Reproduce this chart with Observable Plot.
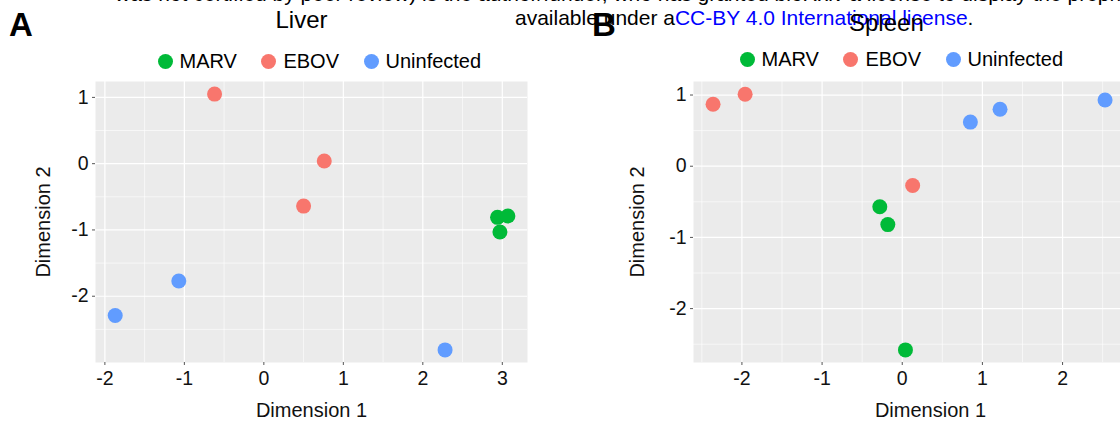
<!DOCTYPE html>
<html><head><meta charset="utf-8">
<script src="https://cdn.jsdelivr.net/npm/d3@7"></script>
<script src="https://cdn.jsdelivr.net/npm/@observablehq/plot@0.6"></script>
<style>
html,body{margin:0;padding:0;background:#fff;overflow:hidden;width:1120px;height:421px;}
body{position:relative;font-family:"Liberation Sans",Arial,sans-serif;color:#000;}
.abs{position:absolute;white-space:nowrap;}
.hdr{font-size:21px;line-height:24px;}
.link{color:#0000ff;}
.title{font-size:24px;line-height:24px;}
.tag{font-size:33px;font-weight:bold;line-height:33px;}
.legend{display:flex;align-items:center;font-size:20px;line-height:20px;}
.legend .dot{width:15px;height:15px;border-radius:50%;margin-right:7px;flex:none;}
.legend .lab{margin-right:24.5px;}
svg.plotpanel{max-width:none !important;}
svg.plotpanel g[aria-label$="tick label"]{font-size:19.5px;}
</style></head><body>
<script>
// ---- data ----
const groups = ["MARV", "EBOV", "Uninfected"];
const groupColors = ["#00BA38", "#F8766D", "#619CFF"];

const liverGroup = ["EBOV", "EBOV", "EBOV", "MARV", "MARV", "MARV", "Uninfected", "Uninfected", "Uninfected"];
const liverDim1  = [-0.62, 0.76, 0.50, 2.94, 3.07, 2.97, -1.07, -1.87, 2.28];
const liverDim2  = [1.05, 0.04, -0.64, -0.81, -0.79, -1.03, -1.77, -2.29, -2.81];

const spleenGroup = ["EBOV", "EBOV", "EBOV", "MARV", "MARV", "MARV", "Uninfected", "Uninfected", "Uninfected"];
const spleenDim1  = [-2.36, -1.96, 0.13, -0.28, -0.18, 0.04, 0.85, 1.22, 2.53];
const spleenDim2  = [0.87, 1.01, -0.27, -0.57, -0.82, -2.58, 0.62, 0.80, 0.93];

const liverXTicks  = [-2, -1, 0, 1, 2, 3];
const liverYTicks  = [-2, -1, 0, 1];
const spleenXTicks = [-2, -1, 0, 1, 2];
const spleenYTicks = [-2, -1, 0, 1];

const headerLine1 = "was not certified by peer review) is the author/funder, who has granted bioRxiv a license to display the preprint in perpetuity. It is made";
const headerLine2a = "available under a";
const headerLink = "CC-BY 4.0 International license";
const headerLine2b = ".";

// ---- helpers ----
const FONT = '"Liberation Sans", Arial, sans-serif';
const fmt = d => String(d);
function minorTicks(major, domain) {
  const step = major[1] - major[0];
  const out = [];
  for (let v = major[0] - step / 2; v <= major[major.length - 1] + step; v += step) {
    if (v >= domain[0] && v <= domain[1]) out.push(v);
  }
  return out;
}
function addDiv(cls, left, top, html) {
  const d = document.createElement("div");
  d.className = "abs " + cls;
  d.style.left = left + "px";
  d.style.top = top + "px";
  d.innerHTML = html;
  document.body.appendChild(d);
  return d;
}
function makePanel({group, dim1, dim2, xTicks, yTicks, xDomain, yDomain, left, width, marginLeft, marginRight, yLabelDx}) {
  const rows = group.map((g, i) => ({group: g, d1: dim1[i], d2: dim2[i]}));
  const xMajor = xTicks.filter(t => t >= xDomain[0] && t <= xDomain[1]);
  const yMajor = yTicks.filter(t => t >= yDomain[0] && t <= yDomain[1]);
  const chart = Plot.plot({
    width, height: 421,
    marginLeft, marginRight, marginTop: 81, marginBottom: 59,
    x: {domain: xDomain, label: null},
    y: {domain: yDomain, label: null},
    color: {domain: groups, range: groupColors},
    style: {fontFamily: FONT, background: "transparent", color: "#111", overflow: "visible"},
    marks: [
      Plot.frame({fill: "#EBEBEB", stroke: null}),
      Plot.gridX(minorTicks(xMajor, xDomain), {stroke: "#fff", strokeOpacity: 1, strokeWidth: 0.6}),
      Plot.gridY(minorTicks(yMajor, yDomain), {stroke: "#fff", strokeOpacity: 1, strokeWidth: 0.6}),
      Plot.gridX(xMajor, {stroke: "#fff", strokeOpacity: 1, strokeWidth: 1.2}),
      Plot.gridY(yMajor, {stroke: "#fff", strokeOpacity: 1, strokeWidth: 1.2}),
      Plot.axisX(xMajor, {tickSize: 3, tickPadding: 6, fontSize: 19.5, tickFormat: fmt, stroke: "#555", fill: "#111", label: null}),
      Plot.axisY(yMajor, {tickSize: 3, tickPadding: 4, fontSize: 19.5, tickFormat: fmt, stroke: "#555", fill: "#111", label: null}),
      Plot.dot(rows, {x: "d1", y: "d2", fill: "group", r: 7.5, stroke: null}),
      Plot.text(["Dimension 1"], {frameAnchor: "bottom", lineAnchor: "middle", textAnchor: "middle", dy: 48, fontSize: 20, fill: "#111"}),
      Plot.text(["Dimension 2"], {frameAnchor: "left", lineAnchor: "middle", textAnchor: "middle", dx: yLabelDx, rotate: -90, fontSize: 20, fill: "#111"})
    ]
  });
  chart.classList.add("plotpanel");
  chart.style.maxWidth = "none";
  const wrap = document.createElement("div");
  wrap.className = "abs";
  wrap.style.left = left + "px";
  wrap.style.top = "0px";
  wrap.style.width = width + "px";
  wrap.appendChild(chart);
  document.body.appendChild(wrap);
}
function makeLegend(left, top) {
  const d = addDiv("legend", left, top, "");
  groups.forEach((g, i) => {
    const dot = document.createElement("span");
    dot.className = "dot";
    dot.style.background = groupColors[i];
    const lab = document.createElement("span");
    lab.className = "lab";
    lab.textContent = g;
    d.appendChild(dot); d.appendChild(lab);
  });
}

// ---- header (cropped preprint notice) ----
addDiv("hdr", 115, -18, headerLine1);
addDiv("hdr", 515, 6, headerLine2a + '<span class="link">' + headerLink + '</span>' + headerLine2b);

// ---- panels ----
makePanel({group: liverGroup, dim1: liverDim1, dim2: liverDim2, xTicks: liverXTicks, yTicks: liverYTicks,
  xDomain: [-2.118, 3.317], yDomain: [-3.0, 1.24], left: 0, width: 560, marginLeft: 95, marginRight: 33, yLabelDx: -52});
makePanel({group: spleenGroup, dim1: spleenDim1, dim2: spleenDim2, xTicks: spleenXTicks, yTicks: spleenYTicks,
  xDomain: [-2.604, 3.309], yDomain: [-2.757, 1.19], left: 580, width: 600, marginLeft: 113, marginRight: 13, yLabelDx: -56});

// ---- titles, tags, legends ----
const t1 = addDiv("title", 0, 8, "Liver"); t1.style.left = (303 - 27.5) + "px";
const t2 = addDiv("title", 0, 11, "Spleen"); t2.style.left = (886 - 37) + "px";
addDiv("tag", 9, 8, "A");
addDiv("tag", 592, 8, "B");
makeLegend(157.5, 51);
makeLegend(739.5, 49);
</script>
</body></html>
